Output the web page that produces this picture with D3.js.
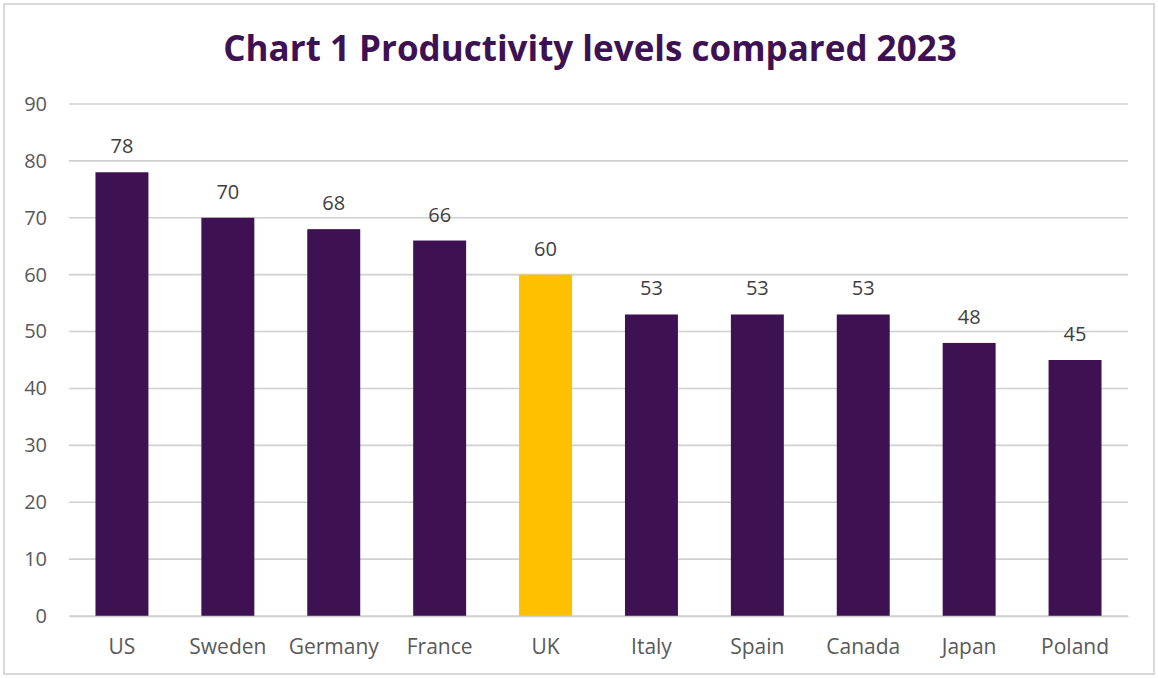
<!DOCTYPE html>
<html>
<head>
<meta charset="utf-8">
<script src="https://cdn.jsdelivr.net/npm/d3@7"></script>
<style>
  body { margin: 0; background: #fff; }
  text { font-family: "Open Sans", "Noto Sans", sans-serif; }
</style>
</head>
<body>
<div id="chart"></div>
<script>
const countries = ["US", "Sweden", "Germany", "France", "UK", "Italy", "Spain", "Canada", "Japan", "Poland"];
const productivity = [78, 70, 68, 66, 60, 53, 53, 53, 48, 45];
const yTicks = [0, 10, 20, 30, 40, 50, 60, 70, 80, 90];
const highlight = "UK";

const width = 1158, height = 678;
const margin = { top: 104, right: 30, bottom: 62, left: 69 };

const svg = d3.select("#chart").append("svg")
  .attr("width", width)
  .attr("height", height);

// khung ngoài
svg.append("rect")
  .attr("x", 4).attr("y", 4)
  .attr("width", width - 8).attr("height", height - 8)
  .attr("fill", "#fff")
  .attr("stroke", "#d9d9d9")
  .attr("stroke-width", 2);

svg.append("text")
  .attr("x", 590)
  .attr("y", 61)
  .attr("text-anchor", "middle")
  .style("font-size", "35px")
  .style("font-weight", "bold")
  .style("fill", "#3d1152")
  .text("Chart 1 Productivity levels compared 2023");

const data = countries.map((c, i) => ({ country: c, value: productivity[i] }));

const x = d3.scaleBand()
  .domain(countries)
  .range([margin.left, width - margin.right])
  .paddingInner(0.5)
  .paddingOuter(0.25);

const y = d3.scaleLinear()
  .domain([0, 90])
  .range([height - margin.bottom, margin.top]);

// lưới ngang
svg.append("g")
  .selectAll("line")
  .data(yTicks)
  .enter().append("line")
  .attr("x1", margin.left)
  .attr("x2", width - margin.right)
  .attr("y1", d => y(d))
  .attr("y2", d => y(d))
  .attr("stroke", "#d0d0d0")
  .attr("stroke-width", 1.6);

// trục y
const yAxis = svg.append("g")
  .attr("transform", `translate(${margin.left - 22},0)`)
  .call(d3.axisLeft(y).tickValues(yTicks).tickSize(0).tickPadding(0));
yAxis.select(".domain").remove();
yAxis.selectAll("text")
  .style("font-size", "20px")
  .style("fill", "#595959")
  .style("font-family", "'Open Sans', sans-serif");

// cột
svg.selectAll(".bar")
  .data(data)
  .enter().append("rect")
  .attr("class", "bar")
  .attr("x", d => x(d.country))
  .attr("y", d => y(d.value))
  .attr("width", x.bandwidth())
  .attr("height", d => y(0) - y(d.value))
  .attr("fill", d => d.country === highlight ? "#ffc000" : "#3d1152");

// trục x
const xAxis = svg.append("g")
  .attr("transform", `translate(0,${y(0)})`)
  .call(d3.axisBottom(x).tickSize(0).tickPadding(23));
xAxis.select(".domain").attr("stroke", "#d0d0d0").attr("stroke-width", 1.6);
xAxis.selectAll("text")
  .style("font-size", "21px")
  .style("fill", "#595959")
  .style("font-family", "'Open Sans', sans-serif");

// nhãn giá trị
svg.selectAll(".label")
  .data(data)
  .enter().append("text")
  .attr("x", d => x(d.country) + x.bandwidth() / 2)
  .attr("y", d => y(d.value) - 19)
  .attr("text-anchor", "middle")
  .style("font-size", "20px")
  .style("fill", "#404040")
  .text(d => d.value);
</script>
</body>
</html>
